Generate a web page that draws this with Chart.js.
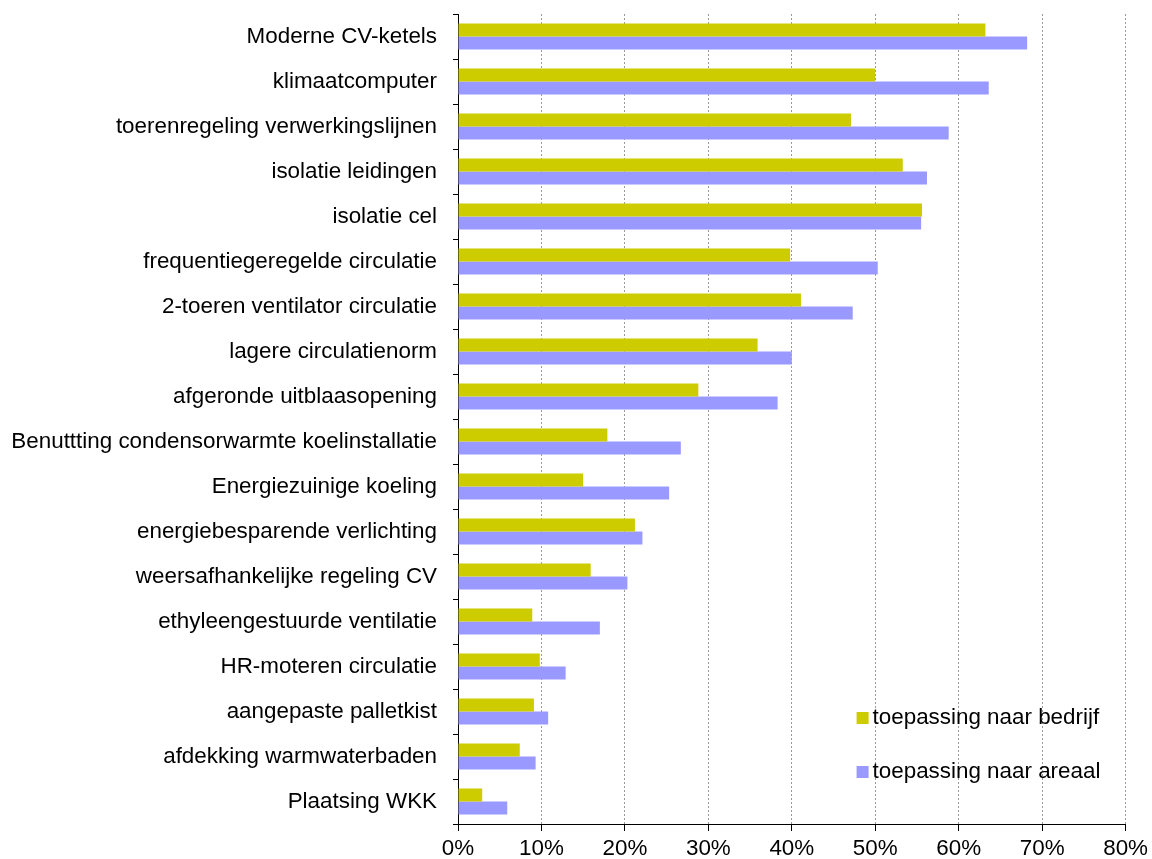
<!doctype html>
<html>

<head>
	<title>Energiebesparende maatregelen</title>
	<script src="https://cdn.jsdelivr.net/npm/chart.js@4"></script>
	<style>
	body {
		margin: 0;
		background: #fff;
	}
	</style>
</head>

<body>
	<canvas id="canvas" width="1152" height="859"></canvas>
	<script>
		const categories = [
			'Moderne CV-ketels',
			'klimaatcomputer',
			'toerenregeling verwerkingslijnen',
			'isolatie leidingen',
			'isolatie cel',
			'frequentiegeregelde circulatie',
			'2-toeren ventilator circulatie',
			'lagere circulatienorm',
			'afgeronde uitblaasopening',
			'Benuttting condensorwarmte koelinstallatie',
			'Energiezuinige koeling',
			'energiebesparende verlichting',
			'weersafhankelijke regeling CV',
			'ethyleengestuurde ventilatie',
			'HR-moteren circulatie',
			'aangepaste palletkist',
			'afdekking warmwaterbaden',
			'Plaatsing WKK'
		];
		const bedrijf = [63.2, 50.0, 47.1, 53.3, 55.6, 39.8, 41.1, 35.9, 28.8, 17.9, 15.0, 21.2, 15.9, 8.9, 9.8, 9.1, 7.4, 2.9];
		const areaal = [68.2, 63.6, 58.8, 56.2, 55.5, 50.3, 47.3, 40.0, 38.3, 26.7, 25.3, 22.1, 20.3, 17.0, 12.9, 10.8, 9.3, 5.9];

		const FONT = {family: '"Liberation Sans", Arial, sans-serif', size: 22.4};

		// legend box inside the plot, bottom right
		const innerLegend = {
			id: 'innerLegend',
			afterDraw(chart) {
				const {ctx, chartArea} = chart;
				const x = chartArea.right - 269;
				const rows = [chartArea.bottom - 106, chartArea.bottom - 52];
				ctx.save();
				ctx.font = FONT.size + 'px ' + FONT.family;
				ctx.textBaseline = 'middle';
				chart.data.datasets.forEach((ds, i) => {
					ctx.fillStyle = ds.backgroundColor;
					ctx.fillRect(x, rows[i] - 6, 12, 12);
					ctx.fillStyle = '#000';
					ctx.fillText(ds.label, x + 16, rows[i]);
				});
				ctx.restore();
			}
		};

		const ctx = document.getElementById('canvas').getContext('2d');
		window.myChart = new Chart(ctx, {
			type: 'bar',
			data: {
				labels: categories,
				datasets: [{
					label: 'toepassing naar bedrijf',
					data: bedrijf,
					backgroundColor: '#cccc00',
					borderWidth: 0
				}, {
					label: 'toepassing naar areaal',
					data: areaal,
					backgroundColor: '#9999ff',
					borderWidth: 0
				}]
			},
			options: {
				indexAxis: 'y',
				responsive: false,
				animation: false,
				categoryPercentage: 0.58,
				barPercentage: 1.0,
				layout: {
					padding: {top: 14, right: 23, left: 0, bottom: 0}
				},
				plugins: {
					legend: {display: false},
					tooltip: {enabled: false}
				},
				scales: {
					x: {
						min: 0,
						max: 80,
						ticks: {
							stepSize: 10,
							color: '#000',
							font: FONT,
							padding: 4,
							maxRotation: 0,
							callback: v => v + '%'
						},
						grid: {
							color: '#999',
							tickColor: '#000',
							tickLength: 7,
							tickBorderDash: [],
							drawTicks: true
						},
						border: {
							display: true,
							color: '#000',
							width: 1,
							dash: [2, 2]
						},
						afterFit(scale) {
							scale.height = 35;
						}
					},
					y: {
						ticks: {
							color: '#000',
							font: FONT,
							padding: 16,
							autoSkip: false
						},
						grid: {
							offset: true,
							drawOnChartArea: false,
							tickColor: '#000',
							tickLength: 5
						},
						border: {
							display: true,
							color: '#000',
							width: 1
						},
						afterFit(scale) {
							scale.width = 458;
							scale.paddingTop = 0;
							scale.paddingBottom = 0;
						}
					}
				}
			},
			plugins: [innerLegend]
		});
	</script>
</body>

</html>
